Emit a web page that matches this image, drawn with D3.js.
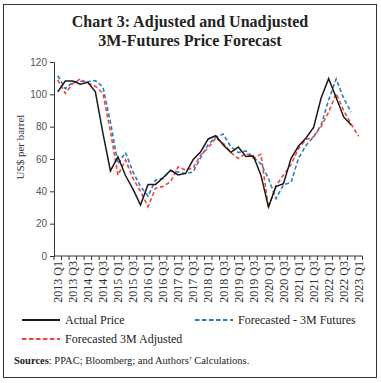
<!DOCTYPE html>
<html><head><meta charset="utf-8">
<script src="https://cdn.jsdelivr.net/npm/d3@7/dist/d3.min.js"></script>
<style>
html,body{margin:0;padding:0;background:#fff;}
svg{display:block;}
</style></head>
<body>
<svg id="chart" width="381" height="383"></svg>
<script>
const quarters = ["2013 Q1","2013 Q2","2013 Q3","2013 Q4","2014 Q1","2014 Q2","2014 Q3","2014 Q4",
"2015 Q1","2015 Q2","2015 Q3","2015 Q4","2016 Q1","2016 Q2","2016 Q3","2016 Q4",
"2017 Q1","2017 Q2","2017 Q3","2017 Q4","2018 Q1","2018 Q2","2018 Q3","2018 Q4",
"2019 Q1","2019 Q2","2019 Q3","2019 Q4","2020 Q1","2020 Q2","2020 Q3","2020 Q4",
"2021 Q1","2021 Q2","2021 Q3","2021 Q4","2022 Q1","2022 Q2","2022 Q3","2022 Q4","2023 Q1"];
const actualPrice = [101.6,108.2,108.2,106.2,107.4,101.6,76,52.6,61.4,49.8,41.4,31.5,44.3,44.3,48.4,53,
50.1,51.1,59.7,64.5,72.4,74.4,68.7,64.1,67.4,61.5,61.8,50,30.3,43,44.7,60.3,68,73,79.5,97.7,109.7,98,86,81];
const futures3M = [111.5,103.5,107.6,108.1,107.8,108.5,104.5,83,57,64,52,43,37,47,48,53,
52,51,52,61,69,73.5,75.5,67.5,64,65,61,57,48,35.5,44,45.5,60.5,68.5,73.7,81,96.5,109.5,97.5,89];
const adjusted3M = [109,100.6,106.8,109.5,106.8,105,100.5,77,50,59.4,48,40,30.5,42,43,46,
55.2,53,54.5,62.5,67,73,69.7,64,60.4,63.5,60.4,63,29.8,43.5,50.1,56.5,66.5,72,73.7,80,89,100.5,90,81.5,74];
const yTicks = [0,20,40,60,80,100,120];
const seriesNames = ["Actual Price","Forecasted - 3M Futures","Forecasted 3M Adjusted"];
const titleLines = ["Chart 3: Adjusted and Unadjusted","3M-Futures Price Forecast"];
const yTitle = "US$ per barrel";

const svg = d3.select("#chart");
const serif = "'Liberation Serif', serif";
const sans = "'Liberation Sans', sans-serif";

// frame
svg.append("rect").attr("x",3.5).attr("y",4.5).attr("width",373).attr("height",373)
  .attr("fill","none").attr("stroke","#333").attr("stroke-width",1);

// title
svg.selectAll("text.title").data(titleLines).enter().append("text")
  .attr("x",190).attr("y",(d,i)=>27+i*18.5).attr("text-anchor","middle")
  .attr("font-family",serif).attr("font-weight","bold").attr("font-size",16)
  .attr("fill","#222").text(d=>d);

const x = d3.scaleBand().domain(quarters).range([54,362.5]);
const bw = x.bandwidth();
const y = d3.scaleLinear().domain([0,120]).range([256,62]);
const cx = i => x(quarters[i]) + bw/2;

// y axis
const yAxis = svg.append("g").attr("transform","translate(54,0)")
  .call(d3.axisLeft(y).tickValues(yTicks).tickSize(4).tickPadding(3));
yAxis.select(".domain").attr("stroke","#333");
yAxis.selectAll(".tick line").attr("stroke","#333");
yAxis.selectAll("text").attr("font-family",sans).attr("font-size",10).attr("fill","#555");

// x axis
const gx = svg.append("g");
gx.append("line").attr("x1",x.range()[0]).attr("x2",x.range()[1]).attr("y1",y(0)).attr("y2",y(0))
  .attr("stroke","#333");
const bounds = quarters.map(q=>x(q)).concat([x.range()[1]]);
gx.selectAll("line.t").data(bounds).enter().append("line")
  .attr("x1",d=>d).attr("x2",d=>d).attr("y1",y(0)).attr("y2",y(0)+4).attr("stroke","#333");
gx.selectAll("text").data(quarters.filter((q,i)=>i%2===0)).enter().append("text")
  .attr("transform",d=>`translate(${x(d)+bw/2},${y(0)+5}) rotate(-90)`)
  .attr("text-anchor","end").attr("dy","0.35em")
  .attr("font-family",serif).attr("font-size",12).attr("fill","#333").text(d=>d);

// y title
svg.append("text").attr("transform","translate(20,147) rotate(-90)")
  .attr("text-anchor","middle").attr("dy","0.35em")
  .attr("font-family",serif).attr("font-size",11).attr("fill","#333").text(yTitle);

const line = d3.line().x((d,i)=>cx(i)).y(d=>y(d));
const colors = ["#1a1a1a","#2b7bc4","#f0473a"];
svg.append("path").datum(futures3M).attr("d",line).attr("fill","none")
  .attr("stroke",colors[1]).attr("stroke-width",1.6).attr("stroke-dasharray","4,2.5");
svg.append("path").datum(adjusted3M).attr("d",line).attr("fill","none")
  .attr("stroke",colors[2]).attr("stroke-width",1.6).attr("stroke-dasharray","4,2.5");
svg.append("path").datum(actualPrice).attr("d",line).attr("fill","none")
  .attr("stroke",colors[0]).attr("stroke-width",1.5);

// legend
const legend = [
  {name:seriesNames[0],x:22,y:320,c:colors[0],dash:null},
  {name:seriesNames[1],x:195,y:320,c:colors[1],dash:"4.5,2.5"},
  {name:seriesNames[2],x:22,y:339,c:colors[2],dash:"4.5,2.5"}
];
const lg = svg.selectAll("g.leg").data(legend).enter().append("g");
lg.append("line").attr("x1",d=>d.x).attr("x2",d=>d.x+38).attr("y1",d=>d.y).attr("y2",d=>d.y)
  .attr("stroke",d=>d.c).attr("stroke-width",1.8).attr("stroke-dasharray",d=>d.dash);
lg.append("text").attr("x",d=>d.x+43).attr("y",d=>d.y).attr("dy","0.35em")
  .attr("font-family",serif).attr("font-size",12).attr("fill","#222").text(d=>d.name);

// sources
const src = svg.append("text").attr("x",14).attr("y",364)
  .attr("font-family",serif).attr("font-size",10.5).attr("fill","#222");
src.append("tspan").attr("font-weight","bold").text("Sources");
src.append("tspan").text(": PPAC; Bloomberg; and Authors\u2019 Calculations.");
</script>
</body></html>
